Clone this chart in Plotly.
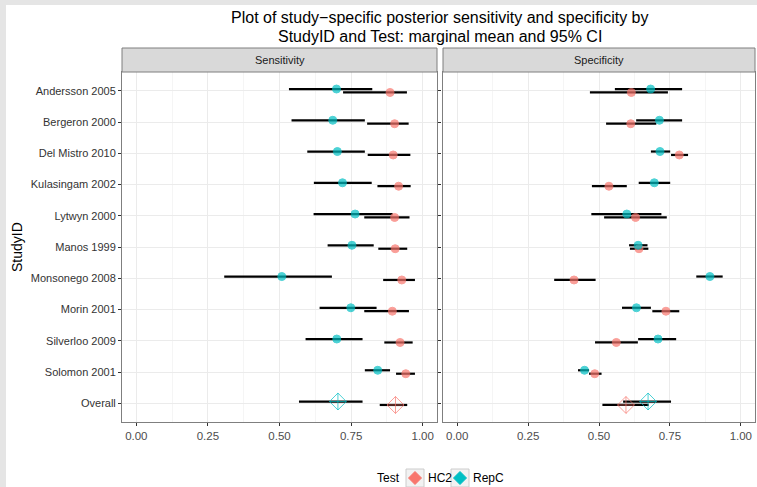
import plotly.graph_objects as go

# ---------------- data ----------------
studies = ["Andersson 2005", "Bergeron 2000", "Del Mistro 2010", "Kulasingam 2002",
           "Lytwyn 2000", "Manos 1999", "Monsonego 2008", "Morin 2001",
           "Silverloo 2009", "Solomon 2001", "Overall"]
tests = ["HC2", "RepC"]
panels = ["Sensitivity", "Specificity"]
x_ticks = [0.0, 0.25, 0.5, 0.75, 1.0]
x_minor = [0.125, 0.375, 0.625, 0.875]
title_lines = ["Plot of study\u2212specific posterior sensitivity and specificity by",
               "StudyID and Test: marginal mean and 95% CI"]

sens_hc2_mean = [0.886, 0.902, 0.897, 0.916, 0.902, 0.904, 0.927, 0.894, 0.921, 0.941, 0.905]
sens_hc2_low  = [0.722, 0.806, 0.808, 0.842, 0.796, 0.845, 0.862, 0.796, 0.866, 0.907, 0.850]
sens_hc2_high = [0.945, 0.951, 0.957, 0.958, 0.954, 0.946, 0.973, 0.952, 0.965, 0.973, 0.946]

sens_repc_mean = [0.699, 0.686, 0.702, 0.720, 0.764, 0.753, 0.508, 0.749, 0.700, 0.843, 0.704]
sens_repc_low  = [0.533, 0.542, 0.597, 0.620, 0.619, 0.668, 0.307, 0.640, 0.591, 0.798, 0.568]
sens_repc_high = [0.824, 0.798, 0.798, 0.822, 0.895, 0.829, 0.683, 0.839, 0.790, 0.886, 0.790]

spec_hc2_mean = [0.614, 0.612, 0.783, 0.535, 0.629, 0.641, 0.412, 0.736, 0.561, 0.485, 0.595]
spec_hc2_low  = [0.468, 0.525, 0.754, 0.475, 0.518, 0.609, 0.342, 0.688, 0.486, 0.465, 0.512]
spec_hc2_high = [0.743, 0.702, 0.814, 0.598, 0.739, 0.674, 0.488, 0.783, 0.637, 0.509, 0.675]

spec_repc_mean = [0.682, 0.713, 0.715, 0.695, 0.598, 0.638, 0.891, 0.632, 0.708, 0.449, 0.673]
spec_repc_low  = [0.556, 0.631, 0.683, 0.640, 0.473, 0.606, 0.843, 0.581, 0.638, 0.426, 0.585]
spec_repc_high = [0.793, 0.793, 0.751, 0.751, 0.720, 0.671, 0.936, 0.683, 0.772, 0.465, 0.754]

# ---------------- styling ----------------
colors = {"HC2": "#F8766D", "RepC": "#00BFC4"}
dodge = {"HC2": -0.055, "RepC": 0.055}
FONT = "Liberation Sans, Arial, sans-serif"
BORDER = "#7f7f7f"

n = len(studies)
base_pos = [n - 1 - i for i in range(n)]

data = {
    ("Sensitivity", "HC2"): (sens_hc2_mean, sens_hc2_low, sens_hc2_high),
    ("Sensitivity", "RepC"): (sens_repc_mean, sens_repc_low, sens_repc_high),
    ("Specificity", "HC2"): (spec_hc2_mean, spec_hc2_low, spec_hc2_high),
    ("Specificity", "RepC"): (spec_repc_mean, spec_repc_low, spec_repc_high),
}
xref = {"Sensitivity": "x", "Specificity": "x2"}

fig = go.Figure()

# error bars first (below all points)
for p in panels:
    for t in tests:
        m, lo, hi = data[(p, t)]
        fig.add_trace(go.Scatter(
            x=m, y=[b + dodge[t] for b in base_pos], xaxis=xref[p], yaxis="y",
            mode="markers", marker=dict(size=2, opacity=0),
            error_x=dict(type="data", symmetric=False,
                         array=[h - v for h, v in zip(hi, m)],
                         arrayminus=[v - l for v, l in zip(m, lo)],
                         color="black", thickness=2.2, width=0),
            showlegend=False, hoverinfo="skip"))

# points
symbols = ["circle"] * (n - 1) + ["diamond-cross-open"]
sizes = [8] * (n - 1) + [13]
for p in panels:
    for t in tests:
        m, lo, hi = data[(p, t)]
        fig.add_trace(go.Scatter(
            x=m, y=[b + dodge[t] for b in base_pos], xaxis=xref[p], yaxis="y",
            mode="markers",
            marker=dict(symbol=symbols, size=sizes, color=colors[t],
                        line=dict(color=colors[t], width=1)),
            showlegend=False, name=t))

# ---------------- layout ----------------
W, H = 757, 487
ml, mr, mt, mb = 122, 2, 72, 65
pw = W - ml - mr
ph = H - mt - mb
d1 = (437 - ml) / pw
d2 = (443 - ml) / pw


def px_x(px):
    return (px - ml) / pw


def px_y(py):
    return (mt + ph - py) / ph


axis_common = dict(
    range=[-0.05, 1.05], tickvals=x_ticks, ticktext=[f"{v:.2f}" for v in x_ticks],
    showgrid=True, gridcolor="#ebebeb", gridwidth=1, zeroline=False,
    minor=dict(tickvals=x_minor, showgrid=True, gridcolor="#f5f5f5", gridwidth=1, ticks=""),
    showline=True, linecolor=BORDER, linewidth=1, mirror=True,
    ticks="outside", ticklen=3, tickcolor="#333333",
    tickfont=dict(family=FONT, size=11.5, color="#4d4d4d"),
    fixedrange=True,
)

fig.update_layout(
    width=W, height=H,
    margin=dict(l=ml, r=mr, t=mt, b=mb, autoexpand=False),
    paper_bgcolor="#e5e5e5",
    plot_bgcolor="white",
    font=dict(family=FONT, color="black"),
    xaxis=dict(domain=[0, d1], anchor="y", **axis_common),
    xaxis2=dict(domain=[d2, 1], anchor="y", **axis_common),
    yaxis=dict(range=[-0.6, n - 0.4], tickvals=base_pos, ticktext=studies,
               showgrid=True, gridcolor="#ebebeb", gridwidth=1, zeroline=False,
               showline=True, linecolor=BORDER, linewidth=1, mirror="all",
               ticks="outside", ticklen=3, tickcolor="#333333",
               tickfont=dict(family=FONT, size=11, color="#333333"),
               anchor="x", fixedrange=True),
    showlegend=False,
)

shapes = []
# white page area (gray strip top and left)
shapes.append(dict(type="rect", xref="paper", yref="paper",
                   x0=px_x(6), x1=px_x(W) + 0.01,
                   y0=px_y(H) - 0.01, y1=px_y(5),
                   fillcolor="white", line=dict(width=0), layer="below"))
annotations = []

# title (two lines, tight ggplot-like line height)
for line, ty in zip(title_lines, [17.5, 36]):
    annotations.append(dict(text=line, xref="paper", yref="paper", x=px_x(440), y=px_y(ty),
                            showarrow=False, xanchor="center", yanchor="middle",
                            font=dict(family=FONT, size=16, color="black")))

strip_h = 24 / ph
for p, (a, b) in zip(panels, [(0, d1), (d2, 1)]):
    shapes.append(dict(type="rect", xref="paper", yref="paper",
                       x0=a, x1=b, y0=1, y1=1 + strip_h,
                       fillcolor="#d9d9d9", line=dict(color=BORDER, width=1)))
    annotations.append(dict(text=p, xref="paper", yref="paper", x=(a + b) / 2,
                            y=1 + strip_h / 2, showarrow=False, xanchor="center",
                            yanchor="middle", font=dict(family=FONT, size=11, color="#1a1a1a")))
annotations.append(dict(text="StudyID", xref="paper", yref="paper",
                        x=px_x(17), y=0.5, textangle=-90, showarrow=False,
                        xanchor="center", yanchor="middle",
                        font=dict(family=FONT, size=14, color="black")))

# legend (ggplot-style keys)
leg_y = 478
annotations.append(dict(text="Test", xref="paper", yref="paper", x=px_x(402), y=px_y(leg_y),
                        showarrow=False, xanchor="right", yanchor="middle",
                        font=dict(family=FONT, size=12, color="black")))
key_left = {"HC2": 406, "RepC": 451}
for t in tests:
    k0 = key_left[t]
    shapes.append(dict(type="rect", xref="paper", yref="paper",
                       x0=px_x(k0), x1=px_x(k0 + 18), y0=px_y(leg_y + 9), y1=px_y(leg_y - 9),
                       fillcolor="#f2f2f2", line=dict(color="#cccccc", width=1)))
    cx, cy, r = k0 + 9, leg_y, 6.5
    path = (f"M {px_x(cx)},{px_y(cy - r)} L {px_x(cx + r)},{px_y(cy)} "
            f"L {px_x(cx)},{px_y(cy + r)} L {px_x(cx - r)},{px_y(cy)} Z")
    shapes.append(dict(type="path", xref="paper", yref="paper", path=path,
                       fillcolor=colors[t], line=dict(color=colors[t], width=1)))
    annotations.append(dict(text=t, xref="paper", yref="paper", x=px_x(k0 + 20), y=px_y(leg_y),
                            showarrow=False, xanchor="left", yanchor="middle",
                            font=dict(family=FONT, size=12, color="black")))

fig.update_layout(shapes=shapes, annotations=annotations)

fig.write_html("out.html", config={"displayModeBar": False},
               post_script="document.body.style.margin='0px';document.body.style.overflow='hidden';")
